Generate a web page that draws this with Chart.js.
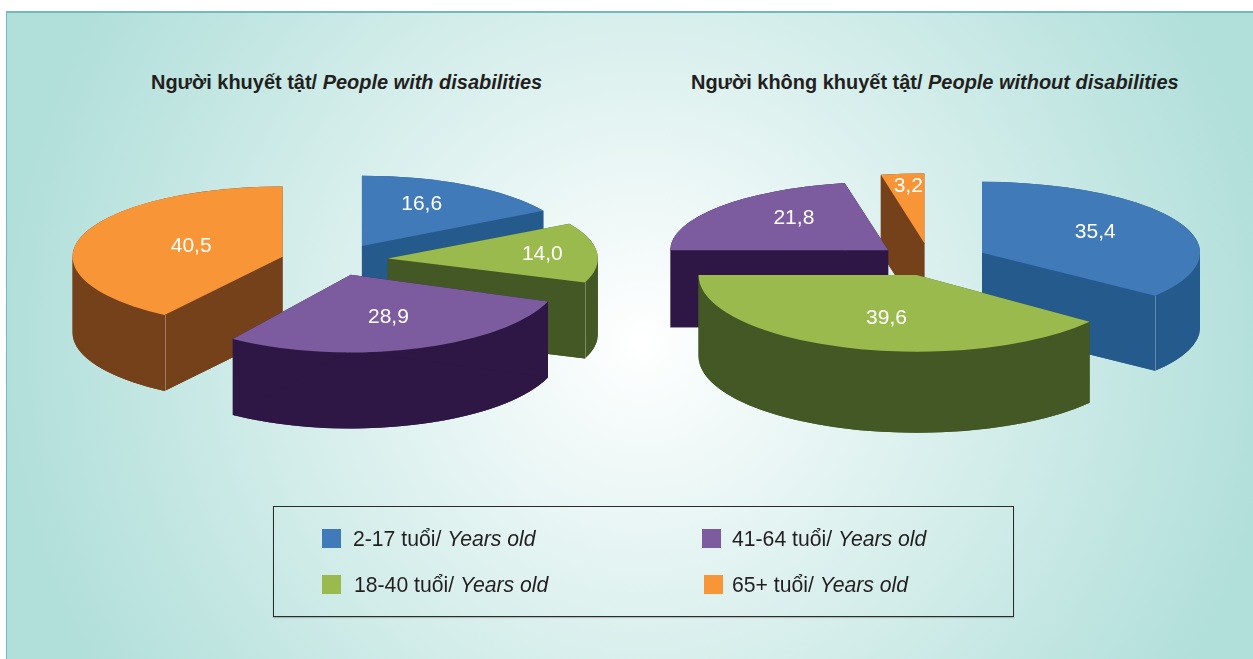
<!DOCTYPE html>
<html lang="vi">
<head>
<meta charset="utf-8">
<title>Người khuyết tật</title>
<script src="https://cdn.jsdelivr.net/npm/chart.js@4"></script>
<style>
  html, body { margin: 0; padding: 0; background: #fff; }
  body { width: 1253px; height: 659px; position: relative; overflow: hidden;
         font-family: "Liberation Sans", Arial, sans-serif; color: #231f20; }
  #panel { position: absolute; left: 6px; top: 11px; width: 1247px; height: 648px; box-sizing: border-box;
           border-top: 2px solid #74b9bb; border-left: 1px solid #74b9bb;
           background: radial-gradient(circle 640px at 634px 329px, #ffffff 0%, #b1dfda 100%); }
  canvas { position: absolute; }
  .title { position: absolute; top: 70px; font-size: 19.97px; font-weight: bold; white-space: nowrap; line-height: 24px; }
  #legend { position: absolute; left: 273px; top: 506px; width: 741px; height: 111px; box-sizing: border-box;
            border: 1px solid #2b2b2b; box-shadow: 0 1px 1px rgba(0,0,0,.2); }
  .swatch { position: absolute; width: 19px; height: 19px; }
  .entry { position: absolute; font-size: 21.2px; line-height: 24px; white-space: nowrap; }
</style>
</head>
<body>
<div id="panel"></div>
<div class="title" id="titleLeft" style="left:151px"></div>
<div class="title" id="titleRight" style="left:691px"></div>
<canvas id="pieLeft" width="600" height="500" style="left:38px;top:10px"></canvas>
<canvas id="pieRight" width="600" height="500" style="left:630px;top:11px"></canvas>
<div id="legend"></div>
<script>
// Chart data
var categories = ['2-17 tuổi/', '18-40 tuổi/', '41-64 tuổi/', '65+ tuổi/'];
var yearsOld = 'Years old';
var valuesWith = [16.6, 14.0, 28.9, 40.5];
var valuesWithout = [35.4, 39.6, 21.8, 3.2];
var titleWith = ['Người khuyết tật/ ', 'People with disabilities'];
var titleWithout = ['Người không khuyết tật/ ', 'People without disabilities'];

// Colours, top face and side wall of every slice
var topColors = ['#407ab9', '#9aba4e', '#7c5c9f', '#f79537'];
var wallColors = ['#255a8c', '#445826', '#2e1745', '#75411b'];

// Look of the two 3D pies (explode = how far a slice is pulled out)
var lookWith = {
    radius: 210,
    depth: [76, 76, 76, 76],
    explode: [48, 50, 42, 58],
    lift: [0, 0, 0, 2.5],
    squash: [0.335, 0.33, 0.37, 0.335],
    nudge: [[-3, -5], [29, -1], [-1, -2], [29, 2]]
};
var lookWithout = {
    radius: 218,
    depth: [75, 81, 77, 78],
    explode: [58, 42, 54, 56],
    lift: [0, 0, 0, 0],
    squash: [0.325, 0.352, 0.315, 0.32],
    nudge: [[-4, -2], [12, 0], [7, -6], [-3, -15]]
};

function fillTitle(el, parts) {
    el.textContent = parts[0];
    var it = document.createElement('i');
    it.textContent = parts[1];
    el.appendChild(it);
}
fillTitle(document.getElementById('titleLeft'), titleWith);
fillTitle(document.getElementById('titleRight'), titleWithout);

// Legend box, two columns
var legendSpots = [[48, 22, 79, 20], [48, 68, 80, 66], [428, 22, 458, 20], [430, 68, 458, 66]];
categories.forEach((cat, i) => {
    var spot = legendSpots[i];
    var box = document.getElementById('legend');
    var sw = document.createElement('div');
    sw.className = 'swatch';
    sw.style.cssText = 'left:' + spot[0] + 'px;top:' + spot[1] + 'px;background:' + topColors[i];
    box.appendChild(sw);
    var entry = document.createElement('div');
    entry.className = 'entry';
    entry.style.cssText = 'left:' + spot[2] + 'px;top:' + spot[3] + 'px';
    entry.textContent = cat + ' ';
    var it = document.createElement('i');
    it.textContent = yearsOld;
    entry.appendChild(it);
    box.appendChild(entry);
});

// Where the slice sits once exploded
function sliceFrame(arc, look, i) {
    var mid = (arc.startAngle + arc.endAngle) / 2;
    var k = look.squash[i];
    return {
        x: arc.x + Math.cos(mid) * look.explode[i],
        y: arc.y + Math.sin(mid) * look.explode[i] * k + look.lift[i],
        k: k, mid: mid, depth: look.depth[i]
    };
}

function tipOf(arc, f, angle) {
    return {
        x: f.x + Math.cos(angle) * arc.outerRadius,
        y: f.y + Math.sin(angle) * arc.outerRadius * f.k
    };
}

function sector(ctx, arc, f, drop) {
    ctx.beginPath();
    ctx.moveTo(f.x, f.y + drop);
    ctx.ellipse(f.x, f.y + drop, arc.outerRadius, arc.outerRadius * f.k, 0, arc.startAngle, arc.endAngle);
    ctx.closePath();
    ctx.fill();
}

// Side of the slice: bottom face, outer wall ribbon and the two cut faces
function walls(ctx, arc, f) {
    var r = arc.outerRadius;
    sector(ctx, arc, f, f.depth);
    // the ribbon would cross itself at the far left and right of the ellipse, so split it there
    var cuts = [arc.startAngle];
    [0, Math.PI].forEach((a) => {
        if (a > arc.startAngle && a < arc.endAngle) cuts.push(a);
    });
    cuts.push(arc.endAngle);
    for (var c = 0; c < cuts.length - 1; c++) {
        ctx.beginPath();
        ctx.ellipse(f.x, f.y, r, r * f.k, 0, cuts[c], cuts[c + 1]);
        ctx.ellipse(f.x, f.y + f.depth, r, r * f.k, 0, cuts[c + 1], cuts[c], true);
        ctx.closePath();
        ctx.fill();
    }
    [arc.startAngle, arc.endAngle].forEach((angle) => {
        var tip = tipOf(arc, f, angle);
        ctx.beginPath();
        ctx.moveTo(f.x, f.y);
        ctx.lineTo(tip.x, tip.y);
        ctx.lineTo(tip.x, tip.y + f.depth);
        ctx.lineTo(f.x, f.y + f.depth);
        ctx.closePath();
        ctx.fill();
    });
}

// The thin seam where a visible cut face meets the outer wall
function seam(ctx, arc, f, angle) {
    var tip = tipOf(arc, f, angle);
    ctx.strokeStyle = 'rgba(255,255,255,0.3)';
    ctx.lineWidth = 1;
    ctx.beginPath();
    ctx.moveTo(Math.round(tip.x) + 0.5, tip.y);
    ctx.lineTo(Math.round(tip.x) + 0.5, tip.y + f.depth);
    ctx.stroke();
}

var pie3d = {
    id: 'pie3d',
    beforeDatasetsDraw(chart, args, opts) {
        var ctx = chart.ctx;
        var look = opts.look;
        var arcs = chart.getDatasetMeta(0).data;
        var order = arcs.map((arc, i) => i);
        // back slices first
        order.sort((a, b) => sliceFrame(arcs[a], look, a).y - sliceFrame(arcs[b], look, b).y);
        order.forEach((i) => {
            var arc = arcs[i];
            var f = sliceFrame(arc, look, i);
            ctx.fillStyle = wallColors[i];
            walls(ctx, arc, f);
            if (Math.sin(arc.endAngle) > 0 && Math.cos(arc.endAngle) > 0) {
                seam(ctx, arc, f, arc.endAngle);
            }
            if (Math.sin(arc.startAngle) > 0 && Math.cos(arc.startAngle) < 0) {
                seam(ctx, arc, f, arc.startAngle);
            }
            ctx.fillStyle = arc.options.backgroundColor;
            sector(ctx, arc, f, 0);
        });
        return false;
    },
    afterDraw(chart, args, opts) {
        var ctx = chart.ctx;
        var look = opts.look;
        var values = chart.data.datasets[0].data;
        chart.getDatasetMeta(0).data.forEach((arc, i) => {
            var f = sliceFrame(arc, look, i);
            var r = arc.outerRadius * 0.6;
            ctx.fillStyle = '#fff';
            ctx.font = '21px "Liberation Sans", Arial, sans-serif';
            ctx.textAlign = 'center';
            ctx.textBaseline = 'middle';
            ctx.fillText(values[i].toFixed(1).replace('.', ','),
                f.x + Math.cos(f.mid) * r + look.nudge[i][0],
                f.y + Math.sin(f.mid) * r * f.k + look.nudge[i][1]);
        });
    }
};

function drawPie(id, values, look) {
    return new Chart(document.getElementById(id), {
        type: 'pie',
        data: {
            labels: categories,
            datasets: [{ data: values, backgroundColor: topColors, borderWidth: 0, radius: look.radius }]
        },
        options: {
            responsive: false,
            animation: false,
            plugins: { legend: { display: false }, tooltip: { enabled: false }, pie3d: { look: look } }
        },
        plugins: [pie3d]
    });
}

drawPie('pieLeft', valuesWith, lookWith);
drawPie('pieRight', valuesWithout, lookWithout);
</script>
</body>
</html>
